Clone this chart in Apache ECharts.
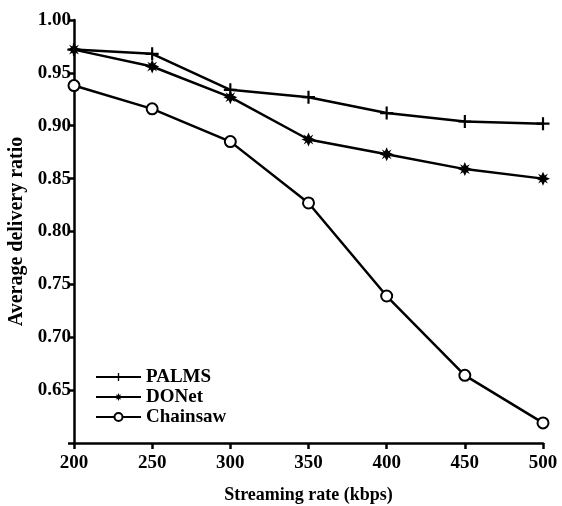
<!DOCTYPE html>
<html>
<head>
<meta charset="utf-8">
<script src="https://cdn.jsdelivr.net/npm/echarts@6/dist/echarts.min.js"></script>
<style>
  html, body { margin: 0; padding: 0; background: #fff; }
  #main { width: 562px; height: 506px; }
</style>
</head>
<body>
<div id="main"></div>
<script>
// streaming rates (kbps)
var rates = [200, 250, 300, 350, 400, 450, 500];
var palms = [0.972, 0.968, 0.934, 0.927, 0.912, 0.904, 0.902];
var donet = [0.972, 0.956, 0.927, 0.887, 0.873, 0.859, 0.850];
var chainsaw = [0.938, 0.916, 0.885, 0.827, 0.739, 0.664, 0.619];

var plusPath = "path://M5,0H7V5H12V7H7V12H5V7H0V5H5Z";
var starPath = "path://M6,0L7.5,3.4L10.2,1.8L8.6,4.5L12,6L8.6,7.5L10.2,10.2L7.5,8.6L6,12L4.5,8.6L1.8,10.2L3.4,7.5L0,6L3.4,4.5L1.8,1.8L4.5,3.4Z";

function pairs(ys) {
  return rates.map(function (x, i) { return [x, ys[i]]; });
}

var font = "Liberation Serif";
var chart = echarts.init(document.getElementById("main"));

function mkSeries(name, ys, symbol, size, fill) {
  return {
    name: name,
    type: "line",
    data: pairs(ys),
    symbol: symbol,
    symbolSize: size,
    showSymbol: true,
    lineStyle: { color: "#000", width: 2.5 },
    itemStyle: { color: fill, borderColor: "#000", borderWidth: symbol === "circle" ? 2 : 0 },
    z: 3
  };
}

chart.setOption({
  animation: false,
  backgroundColor: "#fff",
  grid: { left: 74, right: 19, top: 20, bottom: 63, outerBoundsMode: "none", containLabel: false },
  legend: {
    left: 90,
    top: 362,
    orient: "vertical",
    itemWidth: 45,
    itemHeight: 10,
    itemGap: 0,
    textStyle: { fontFamily: font, fontWeight: "bold", fontSize: 19, lineHeight: 20, color: "#000" },
    data: ["PALMS", "DONet", "Chainsaw"]
  },
  xAxis: {
    type: "value",
    min: 200,
    max: 500,
    interval: 50,
    name: "Streaming rate (kbps)",
    nameLocation: "middle",
    nameGap: 43,
    nameTextStyle: { fontFamily: font, fontWeight: "bold", fontSize: 18, color: "#000" },
    axisLine: { lineStyle: { color: "#000", width: 2.5 } },
    axisTick: { show: true, length: 6, lineStyle: { color: "#000", width: 2.5 } },
    axisLabel: { fontFamily: font, fontWeight: "bold", fontSize: 19, color: "#000", margin: 11 },
    splitLine: { show: false }
  },
  yAxis: {
    type: "value",
    min: 0.6,
    max: 1.0,
    interval: 0.05,
    name: "Average delivery ratio",
    nameLocation: "middle",
    nameGap: 42,
    nameTextStyle: { fontFamily: font, fontWeight: "bold", fontSize: 20, color: "#000" },
    axisLine: { show: true, lineStyle: { color: "#000", width: 2.5 } },
    axisTick: { show: true, length: 6, lineStyle: { color: "#000", width: 2.5 } },
    axisLabel: {
      fontFamily: font, fontWeight: "bold", fontSize: 19, color: "#000", margin: 3,
      formatter: function (v) { return Math.abs(v - 0.6) < 1e-6 ? "" : v.toFixed(2); }
    },
    splitLine: { show: false }
  },
  series: [
    mkSeries("PALMS", palms, plusPath, 13, "#000"),
    mkSeries("DONet", donet, starPath, 14, "#000"),
    mkSeries("Chainsaw", chainsaw, "circle", 11, "#fff")
  ]
});
</script>
</body>
</html>
